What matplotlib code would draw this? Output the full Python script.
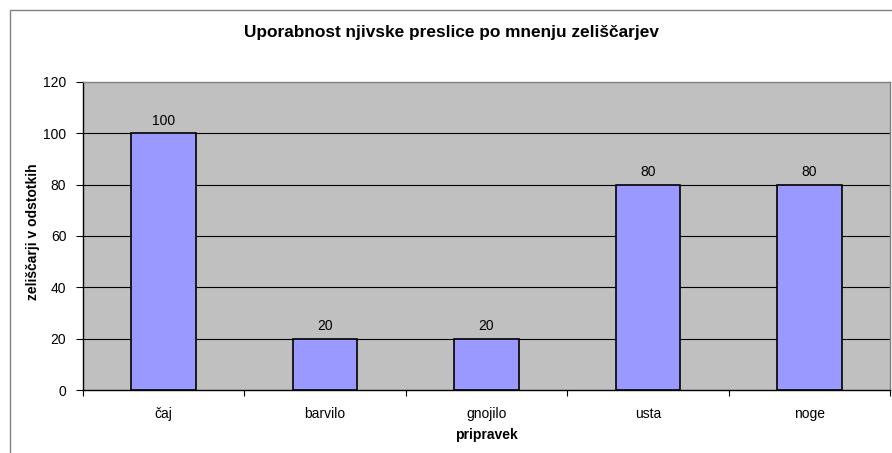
import matplotlib
matplotlib.use("Agg")
import matplotlib.pyplot as plt
from matplotlib.patches import Rectangle
import numpy as np

categories = ["čaj", "barvilo", "gnojilo", "usta", "noge"]
values = [100, 20, 20, 80, 80]
yticks = [0, 20, 40, 60, 80, 100, 120]

plt.rcParams['font.family'] = ['Liberation Sans', 'DejaVu Sans']

fig = plt.figure(figsize=(8.92, 4.53), dpi=100)
fig.patches.append(Rectangle((10/892, -0.1), 1.2, 1.1 - 10/453, transform=fig.transFigure,
                             fill=False, edgecolor="#808080", linewidth=1.0))

ax = fig.add_axes([83/892, 1 - 390/453, (890 - 83)/892, (390 - 82)/453])
ax.set_facecolor("#C0C0C0")
x = np.arange(len(categories))
ax.set_xlim(-0.5, len(categories) - 0.5)
ax.set_ylim(0, 120)
for y in yticks[1:-1]:
    ax.axhline(y, color="black", linewidth=0.8, zorder=1)
bars = ax.bar(x, values, width=0.4, color="#9999FF", edgecolor="black", linewidth=1.2, zorder=3)
for xi, v in zip(x, values):
    ax.text(xi, v + 2.2, str(v), ha="center", va="bottom", fontsize=10)

ax.set_yticks(yticks)
ax.set_yticklabels([str(t) for t in yticks], fontsize=10)
ax.set_xticks(np.arange(-0.5, len(categories) + 0.5, 1.0))
ax.set_xticklabels([])
ax.set_xticks(x, minor=True)
ax.set_xticklabels(categories, minor=True, fontsize=10)
ax.tick_params(axis="x", which="minor", length=0, pad=12)
ax.tick_params(axis="x", which="major", length=4, width=0.8, direction="out")
ax.tick_params(axis="y", length=5, width=0.8, direction="out", pad=7)

for s in ["top", "right"]:
    ax.spines[s].set_color("#808080")
    ax.spines[s].set_linewidth(1.0)
for s in ["left", "bottom"]:
    ax.spines[s].set_color("black")
    ax.spines[s].set_linewidth(1.0)

fig.text((83 + 890) / 2 / 892, 1 - 435 / 453, "pripravek",
         ha="center", va="center", fontsize=10, fontweight="bold")
fig.text(33 / 892, 1 - 232 / 453, "zeliščarji v odstotkih", rotation=90,
         ha="center", va="center", fontsize=10, fontweight="bold")
fig.text(452 / 892, 1 - 32 / 453, "Uporabnost njivske preslice po mnenju zeliščarjev",
         ha="center", va="center", fontsize=12.4, fontweight="bold")

fig.savefig("out.png", dpi=100)
